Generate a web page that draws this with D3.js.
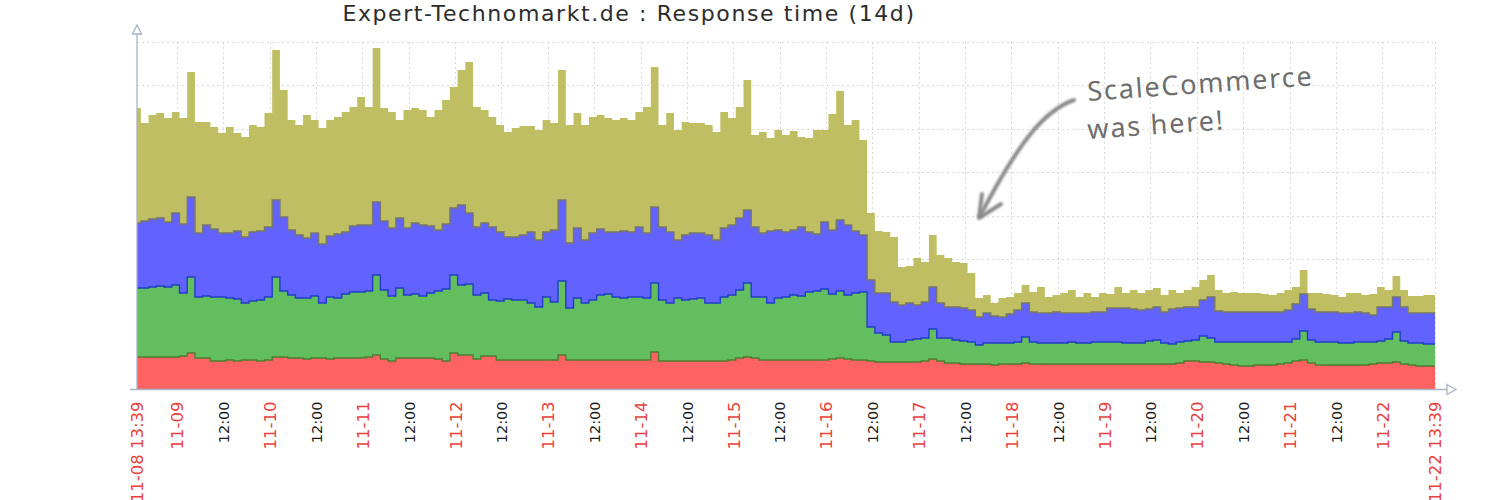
<!DOCTYPE html>
<html>
<head>
<meta charset="utf-8">
<script src="https://cdn.jsdelivr.net/npm/d3@7"></script>
<style>
body{margin:0;background:#fff}
svg{display:block}
</style>
</head>
<body>
<svg id="chart" width="1500" height="500"></svg>
<script>
// ---------------- DATA ----------------
const titleText = "Expert-Technomarkt.de : Response time (14d)";
const startTime = "2013-11-08T13:39";
const endTime = "2013-11-22T13:39";
const stepHours = 2;
const seriesKeys = ["lookup", "connect", "firstbyte", "total"];
const seriesColors = ["#ff6262", "#62be5f", "#6262ff", "#bfbe62"];
const seriesLineColors = ["#4e7d32", "#1f3fc4", "#77776a", null];

const lookupValues = [
32,32,32,32,32,32,33,36,31,31,
28,28,29,28,29,29,28,29,32,32,
31,31,30,31,31,30,31,31,31,31,
32,34,30,28,31,31,31,31,31,30,
28,36,34,34,30,33,33,29,29,29,
29,29,29,29,29,34,29,29,29,29,
29,29,29,29,29,29,29,37,28,28,
28,28,28,28,28,28,28,29,31,32,
31,29,29,29,29,29,29,29,29,29,
30,31,30,29,29,28,27,27,27,27,
27,27,28,30,28,26,26,25,25,25,
25,24,25,25,25,26,25,25,25,25,
25,25,25,25,25,25,25,25,25,25,
25,25,25,25,25,26,28,28,27,27,
26,25,24,23,23,24,24,24,25,26,
28,29,26,24,24,24,24,24,24,24,
25,26,26,27,25,24,23,23,23];

const connectValues = [
69,69,70,71,70,72,63,76,61,62,
64,64,62,62,57,59,61,63,80,66,
63,60,61,62,55,62,60,64,66,66,
66,80,69,65,70,63,64,62,65,68,
72,78,70,71,64,63,56,59,61,60,
60,57,53,63,58,74,52,62,57,60,
65,66,63,62,63,63,62,69,61,58,
63,61,62,63,58,58,64,65,68,74,
61,63,57,62,63,65,64,68,69,71,
65,67,64,67,68,34,29,27,20,20,
22,23,23,30,23,25,23,23,22,19,
21,22,21,21,22,26,22,21,21,21,
21,22,21,21,22,22,22,22,21,21,
21,23,24,21,20,21,20,21,26,24,
21,22,23,24,24,23,23,23,22,21,
22,29,23,23,23,23,22,22,23,23,
22,22,24,30,23,22,23,22,22];

const firstbyteValues = [
65,67,68,68,65,72,69,80,64,71,
68,64,65,68,66,69,69,70,77,74,
65,63,60,63,59,61,64,62,66,67,
66,73,69,68,70,67,71,71,67,61,
65,67,80,71,68,70,73,69,62,63,
65,71,67,65,72,81,65,70,63,67,
66,62,65,67,65,70,65,76,73,71,
58,65,66,65,68,63,69,70,72,73,
70,64,72,68,65,65,69,60,57,67,
64,71,70,62,57,47,40,42,40,37,
37,34,36,42,35,31,33,33,32,28,
30,27,26,29,32,34,30,30,30,31,
30,29,30,30,30,30,34,34,35,34,
33,32,33,31,35,34,34,33,36,41,
31,30,30,30,30,30,30,30,30,32,
35,37,31,30,30,30,30,30,30,29,
27,34,32,35,34,30,30,31,31];

const totalValues = [
115,98,104,105,104,101,106,125,111,103,
102,100,106,98,100,107,104,114,150,127,
110,110,123,113,116,116,117,120,119,128,
118,154,113,116,98,118,115,115,109,120,
124,121,135,151,120,113,110,107,105,109,
109,106,110,112,107,130,118,115,115,116,
114,114,112,113,112,115,126,140,102,119,
110,113,110,110,110,108,116,107,111,130,
92,101,93,100,97,99,90,94,104,92,
116,129,100,111,95,67,62,61,65,38,
37,47,40,52,48,49,45,45,37,19,
18,13,19,17,17,18,20,26,16,17,
20,23,16,20,15,19,14,21,15,19,
17,19,19,17,19,15,17,20,20,22,
21,19,20,19,19,19,18,17,19,20,
17,24,16,19,18,17,16,20,19,18,
21,20,17,21,17,17,17,18,18];

const yMax = 347;
const gridCount = 8;

const tickTimes = [
"2013-11-08T13:39",
"2013-11-09T00:00","2013-11-09T12:00",
"2013-11-10T00:00","2013-11-10T12:00",
"2013-11-11T00:00","2013-11-11T12:00",
"2013-11-12T00:00","2013-11-12T12:00",
"2013-11-13T00:00","2013-11-13T12:00",
"2013-11-14T00:00","2013-11-14T12:00",
"2013-11-15T00:00","2013-11-15T12:00",
"2013-11-16T00:00","2013-11-16T12:00",
"2013-11-17T00:00","2013-11-17T12:00",
"2013-11-18T00:00","2013-11-18T12:00",
"2013-11-19T00:00","2013-11-19T12:00",
"2013-11-20T00:00","2013-11-20T12:00",
"2013-11-21T00:00","2013-11-21T12:00",
"2013-11-22T00:00",
"2013-11-22T13:39"];
const tickLabels = [
"11-08 13:39",
"11-09","12:00","11-10","12:00","11-11","12:00","11-12","12:00",
"11-13","12:00","11-14","12:00","11-15","12:00","11-16","12:00",
"11-17","12:00","11-18","12:00","11-19","12:00","11-20","12:00",
"11-21","12:00","11-22",
"11-22 13:39"];

const annotationLines = ["ScaleCommerce", "was here!"];

// ---------------- CHART ----------------
const parse = d3.timeParse("%Y-%m-%dT%H:%M");
const t0 = parse(startTime), t1 = parse(endTime);
const plot = {left: 137, right: 1435, top: 42, bottom: 389};

const svg = d3.select("#chart");

const x = d3.scaleTime().domain([t0, t1]).range([plot.left, plot.right]);
const y = d3.scaleLinear().domain([0, yMax]).range([plot.bottom, plot.top]);

const seriesArrays = [lookupValues, connectValues, firstbyteValues, totalValues];
const table = lookupValues.map((_, i) => {
  const row = {time: d3.timeHour.offset(t0, i * stepHours)};
  seriesKeys.forEach((k, j) => row[k] = seriesArrays[j][i]);
  return row;
});

const stack = d3.stack().keys(seriesKeys);
const layers = stack(table);

const defs = svg.append("defs");
defs.append("clipPath").attr("id", "plotclip")
  .append("rect").attr("x", plot.left).attr("y", 0)
  .attr("width", plot.right - plot.left).attr("height", plot.bottom + 1);
const blur = defs.append("filter").attr("id", "soft").attr("x", "-20%").attr("y", "-20%").attr("width", "140%").attr("height", "140%");
blur.append("feGaussianBlur").attr("stdDeviation", 0.9);

// grid
const gridG = svg.append("g");
const tickDates = tickTimes.map(parse);
const gridStep = yMax / gridCount;
const gridVals = d3.range(1, gridCount + 1).map(k => k * gridStep);
gridG.selectAll("line.h").data(gridVals).join("line")
  .attr("x1", plot.left).attr("x2", plot.right)
  .attr("y1", d => Math.round(y(d)) + 0.5).attr("y2", d => Math.round(y(d)) + 0.5)
  .attr("stroke", "#d8d8d8").attr("stroke-dasharray", "2,3");
gridG.selectAll("line.v").data(tickDates.slice(1)).join("line")
  .attr("x1", d => Math.round(x(d)) + 0.5).attr("x2", d => Math.round(x(d)) + 0.5)
  .attr("y1", plot.top).attr("y2", plot.bottom)
  .attr("stroke", "#d8d8d8").attr("stroke-dasharray", "2,3");

// areas
const curve = d3.curveStep;
const area = d3.area()
  .x(d => x(d.data.time))
  .y0(d => y(d[0]))
  .y1(d => y(d[1]))
  .curve(curve);
const line = d3.line()
  .x(d => x(d.data.time))
  .y(d => y(d[1]))
  .curve(curve);

const dataG = svg.append("g").attr("clip-path", "url(#plotclip)");
dataG.selectAll("path.area").data(layers).join("path")
  .attr("d", area)
  .attr("fill", (d, i) => seriesColors[i]);
dataG.selectAll("path.edge").data(layers.filter((d, i) => seriesLineColors[i])).join("path")
  .attr("d", line)
  .attr("fill", "none")
  .attr("stroke", (d) => seriesLineColors[d.index])
  .attr("stroke-width", 1.4);

// axes
const axisColor = "#a9b3c3";
const xAxis = d3.axisBottom(x).tickValues(tickDates).tickSize(0)
  .tickFormat((d, i) => tickLabels[i]);
const xg = svg.append("g").attr("transform", `translate(0,${plot.bottom + 0.5})`).call(xAxis);
xg.select(".domain").remove();
xg.selectAll(".tick text")
  .attr("transform", "translate(0,12) rotate(-90)")
  .attr("text-anchor", "end")
  .attr("x", 0).attr("y", 0).attr("dy", "0.36em")
  .attr("font-family", "DejaVu Sans, sans-serif")
  .attr("font-size", (d, i) => tickLabels[i].includes("-") ? "16.5px" : "14.5px")
  .attr("fill", (d, i) => tickLabels[i].includes("-") ? "#e8413c" : "#1a1a1a");

const axG = svg.append("g").attr("stroke", axisColor).attr("fill", "#fff").attr("stroke-width", 1.3);
axG.append("line").attr("x1", plot.left).attr("x2", plot.left)
  .attr("y1", plot.bottom + 0.5).attr("y2", plot.top - 9);
axG.append("line").attr("x1", plot.left - 7).attr("x2", plot.right + 12)
  .attr("y1", plot.bottom + 0.5).attr("y2", plot.bottom + 0.5);
axG.append("path").attr("d", d3.line()([[plot.left, plot.top - 17], [plot.left - 4.5, plot.top - 8], [plot.left + 4.5, plot.top - 8]]) + "Z");
axG.append("path").attr("d", d3.line()([[plot.right + 21, plot.bottom + 0.5], [plot.right + 12, plot.bottom - 4.5], [plot.right + 12, plot.bottom + 5.5]]) + "Z");

// title
svg.append("text").attr("x", 629).attr("y", 21)
  .attr("text-anchor", "middle")
  .attr("font-family", "DejaVu Sans, sans-serif")
  .attr("font-size", "22px").attr("letter-spacing", "1.6px").attr("fill", "#2c2c2c")
  .text(titleText);

// annotation
const annG = svg.append("g");
annG.append("path")
  .attr("d", "M1074,100 C1045,110 1020,140 980,216")
  .attr("fill", "none").attr("stroke", "#8a8a8a").attr("stroke-width", 4)
  .attr("stroke-linecap", "round").attr("filter", "url(#soft)");
annG.append("path")
  .attr("d", "M982,194 L979,218 L1001,204")
  .attr("fill", "none").attr("stroke", "#8a8a8a").attr("stroke-width", 4)
  .attr("stroke-linecap", "round").attr("stroke-linejoin", "round").attr("filter", "url(#soft)");
annG.selectAll("text").data(annotationLines).join("text")
  .attr("transform", (d, i) => `translate(1088,${101 + i * 38}) rotate(-4)`)
  .attr("font-family", "Comic Sans MS, Noto Sans, sans-serif")
  .attr("font-size", "27px")
  .attr("letter-spacing", "1.8px")
  .attr("fill", "#6e6e6e")
  .text(d => d);
</script>
</body>
</html>
